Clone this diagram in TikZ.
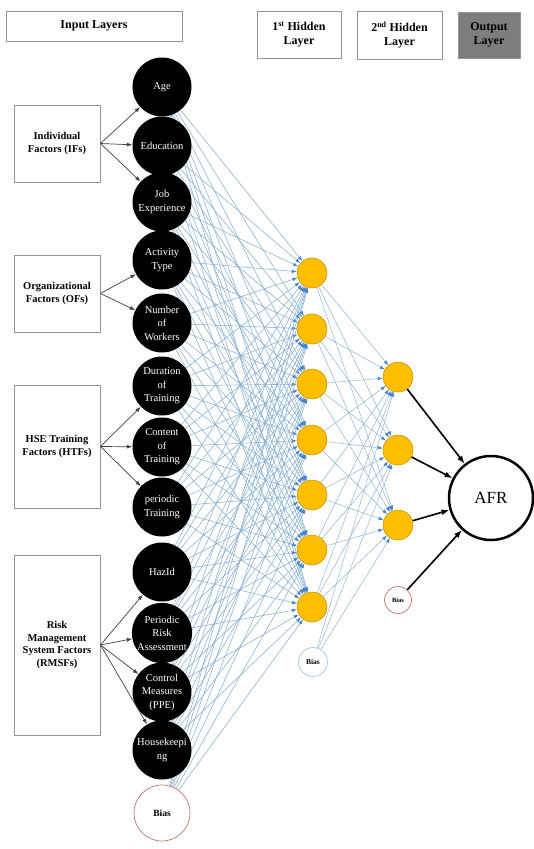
\documentclass[tikz,border=0pt]{standalone}
\usepackage{fontspec}
\setmainfont{Liberation Serif}
\usetikzlibrary{arrows.meta,backgrounds}

\definecolor{linkblue}{RGB}{135,175,210}
\definecolor{tipblue}{RGB}{70,130,205}
\definecolor{hidfill}{RGB}{255,190,0}
\definecolor{boxgray}{RGB}{150,150,150}
\definecolor{outgray}{RGB}{125,125,125}
\definecolor{biasred}{RGB}{195,115,115}
\definecolor{biasblue}{RGB}{170,200,230}

\tikzset{
	topbox/.style={draw=boxgray,line width=1pt,fill=white,align=center,inner sep=0pt,
		font=\bfseries\fontsize{12}{14}\selectfont},
	sidebox/.style={draw=boxgray,line width=1pt,fill=white,align=center,inner sep=0pt,
		minimum width=86pt,font=\bfseries\fontsize{10.5}{12.5}\selectfont},
	inp/.style={circle,fill=black,text=white,minimum size=59pt,inner sep=0pt,align=center,
		font=\fontsize{10.5}{13.5}\selectfont},
	hid/.style={circle,fill=hidfill,draw=hidfill!75!black,line width=0.5pt,minimum size=30pt,inner sep=0pt},
	biasnode/.style={circle,fill=white,line width=0.7pt,inner sep=0pt,font=\bfseries},
	link/.style={draw=linkblue,line width=0.55pt,-{Latex[length=5pt,width=3.5pt,color=tipblue]}},
	feed/.style={draw=black!75,line width=0.7pt,-{Latex[length=5.5pt,width=4pt]}},
	outarrow/.style={draw=black,line width=1.6pt,-{Latex[length=8pt,width=6pt]}}
}

\begin{document}
\begin{tikzpicture}[x=1pt,y=-1pt,>=latex]
\useasboundingbox (0,0) rectangle (533,849);

% headers
\node[topbox,minimum width=176pt,minimum height=30pt] (hin) at (94,26) {Input Layers};
\node[topbox,minimum width=84pt,minimum height=47pt] (hone) at (299,34.5) {1\textsuperscript{st} Hidden\\Layer};
\node[topbox,minimum width=85pt,minimum height=48pt] (htwo) at (399.5,35) {2\textsuperscript{nd} Hidden\\Layer};
\node[topbox,fill=outgray,minimum width=62pt,minimum height=46pt] (hout) at (489,35) {Output\\Layer};

% input layer
\foreach \y/\t [count=\i] in {87/Age,146/Education,202/{Job\\Experience},260/{Activity\\Type},
	323/{Number\\of\\Workers},386/{Duration\\of\\Training},447/{Content\\of\\Training},
	507/{periodic\\Training},572/HazId,633/{Periodic\\Risk\\Assessment},
	692/{Control\\Measures\\(PPE)},750/{Housekeepi\\ng}}
	\node[inp] (i\i) at (162,\y) {\t};
\node[biasnode,draw=biasred,minimum size=56pt,font=\bfseries\fontsize{9.5}{11}\selectfont] (i13) at (162,813) {Bias};

% groups of factors
\node[sidebox,minimum height=77pt] (ifs) at (57,143.5) {Individual\\Factors (IFs)};
\node[sidebox,minimum height=77pt] (ofs) at (57,293.5) {Organizational\\Factors (OFs)};
\node[sidebox,minimum height=123pt] (htfs) at (57,446.5) {HSE Training\\Factors (HTFs)};
\node[sidebox,minimum height=180pt] (rmsfs) at (57,645) {Risk\\Management\\System Factors\\(RMSFs)};

\foreach \i in {1,2,3} \draw[feed] (ifs.east) -- (i\i);
\foreach \i in {4,5} \draw[feed] (ofs.east) -- (i\i);
\foreach \i in {6,7,8} \draw[feed] (htfs.east) -- (i\i);
\foreach \i in {9,...,12} \draw[feed] (rmsfs.east) -- (i\i);

% hidden layers
\foreach \y [count=\j] in {273,329,384,440,495,550,607}
	\node[hid] (h\j) at (312,\y) {};
\node[biasnode,draw=biasblue,minimum size=29pt,font=\bfseries\fontsize{7.5}{8}\selectfont] (h8) at (313,662) {Bias};

\foreach \y [count=\k] in {377,450,525}
	\node[hid] (k\k) at (398,\y) {};
\node[biasnode,draw=biasred,minimum size=27pt,font=\bfseries\fontsize{6.5}{8}\selectfont] (k4) at (398,600) {Bias};

% output
\node[circle,draw=black,line width=2.5pt,fill=white,minimum size=84pt,inner sep=0pt,
	font=\fontsize{17}{20}\selectfont] (afr) at (491,498) {AFR};

\begin{scope}[on background layer]
\foreach \i in {1,...,13}
	\foreach \j in {1,...,7}
		\draw[link] (i\i) -- (h\j);
\foreach \j in {1,...,8}
	\foreach \k in {1,2,3}
		\draw[link,line width=0.45pt] (h\j) -- (k\k);
\end{scope}

\foreach \k in {1,...,4} \draw[outarrow] (k\k) -- (afr);
\end{tikzpicture}
\end{document}
